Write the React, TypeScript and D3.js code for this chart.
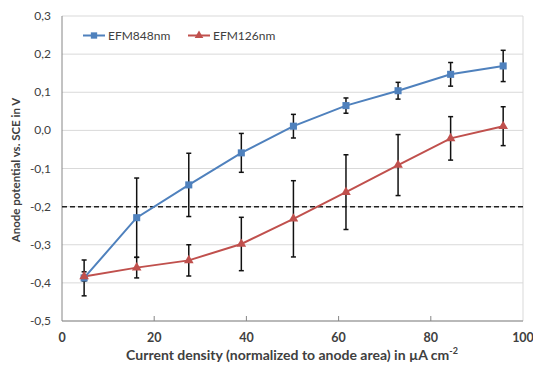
import * as d3 from 'd3';
import React, { useRef, useEffect } from 'react';

// Data
const xValues = [4.8, 16.2, 27.5, 38.9, 50.2, 61.6, 72.9, 84.3, 95.7];
const blueValues = [-0.387, -0.229, -0.143, -0.059, 0.011, 0.065, 0.104, 0.147, 0.169];
const blueErrors = [0.047, 0.104, 0.083, 0.051, 0.031, 0.02, 0.022, 0.031, 0.041];
const redValues = [-0.383, -0.36, -0.341, -0.298, -0.232, -0.162, -0.091, -0.021, 0.011];
const redErrors = [0.012, 0.027, 0.041, 0.07, 0.1, 0.098, 0.08, 0.057, 0.051];
const yTicks = [0.3, 0.2, 0.1, 0.0, -0.1, -0.2, -0.3, -0.4, -0.5];
const xTicks = [0, 20, 40, 60, 80, 100];
const seriesNames = ['EFM848nm', 'EFM126nm'];
const threshold = -0.2;

const width = 533;
const height = 365;
const margin = { left: 62, right: 10, top: 16, bottom: 44 };
const font = 'Lato, "Open Sans", sans-serif';
const blue = '#4f81bd';
const red = '#c0504d';

export default function App() {
    const svgRef = useRef<SVGSVGElement>(null);

    useEffect(() => {
        const svg = d3.select(svgRef.current);
        svg.selectAll('*').remove();

        const x = d3.scaleLinear().domain([0, 100]).range([margin.left, width - margin.right]);
        const y = d3.scaleLinear().domain([-0.5, 0.3]).range([height - margin.bottom, margin.top]);

        // gridlines
        svg.append('g').selectAll('line').data(yTicks).enter().append('line')
            .attr('x1', x(0)).attr('x2', x(100))
            .attr('y1', d => y(d)).attr('y2', d => y(d))
            .attr('stroke', '#d9d9d9').attr('stroke-width', 1);

        // right border
        svg.append('line')
            .attr('x1', x(100)).attr('x2', x(100)).attr('y1', y(0.3)).attr('y2', y(-0.5))
            .attr('stroke', '#d9d9d9');

        // axes
        svg.append('line')
            .attr('x1', x(0)).attr('x2', x(0)).attr('y1', y(0.3)).attr('y2', y(-0.5))
            .attr('stroke', '#868686');
        svg.append('line')
            .attr('x1', x(0)).attr('x2', x(100)).attr('y1', y(-0.5)).attr('y2', y(-0.5))
            .attr('stroke', '#868686');
        svg.append('g').selectAll('line').data(xTicks.slice(1, -1)).enter().append('line')
            .attr('x1', d => x(d)).attr('x2', d => x(d))
            .attr('y1', y(-0.5)).attr('y2', y(-0.5) - 5)
            .attr('stroke', '#868686');

        // tick labels
        svg.append('g').selectAll('text').data(yTicks).enter().append('text')
            .attr('x', 51).attr('y', d => y(d) + 4)
            .attr('text-anchor', 'end')
            .attr('font-family', font).attr('font-size', 12).attr('fill', '#404040')
            .text(d => d3.format('.1f')(d).replace('.', ',').replace('−', '-'));
        svg.append('g').selectAll('text').data(xTicks).enter().append('text')
            .attr('x', d => x(d)).attr('y', y(-0.5) + 21)
            .attr('text-anchor', 'middle')
            .attr('font-family', font).attr('font-size', 12.5).attr('font-weight', 'bold').attr('fill', '#404040')
            .text(d => d);

        // axis titles
        svg.append('text')
            .attr('transform', `translate(20, 170) rotate(-90)`)
            .attr('text-anchor', 'middle')
            .attr('font-family', font).attr('font-size', 11.5).attr('font-weight', 'bold').attr('fill', '#404040')
            .text('Anode potential vs. SCE in V');
        const xt = svg.append('text')
            .attr('x', 292).attr('y', 360)
            .attr('text-anchor', 'middle')
            .attr('font-family', font).attr('font-size', 14).attr('font-weight', 'bold').attr('fill', '#404040')
            .text('Current density (normalized to anode area) in µA cm');
        xt.append('tspan').attr('dy', -6).attr('font-size', 9).text('-2');

        // dashed threshold
        svg.append('line')
            .attr('x1', x(0)).attr('x2', x(100)).attr('y1', y(threshold)).attr('y2', y(threshold))
            .attr('stroke', '#222').attr('stroke-width', 1.5).attr('stroke-dasharray', '5,3');

        const series = [
            { name: seriesNames[0], values: blueValues, errors: blueErrors, color: blue, marker: d3.symbolSquare },
            { name: seriesNames[1], values: redValues, errors: redErrors, color: red, marker: d3.symbolTriangle },
        ];

        const line = d3.line<number>().x((d, i) => x(xValues[i])).y(d => y(d));

        series.forEach(s => {
            svg.append('path').datum(s.values)
                .attr('d', line).attr('fill', 'none')
                .attr('stroke', s.color).attr('stroke-width', 2);
        });

        series.forEach(s => {
            const g = svg.append('g').attr('stroke', '#111').attr('stroke-width', 1.5);
            s.values.forEach((v, i) => {
                const cx = x(xValues[i]);
                const top = y(v + s.errors[i]);
                const bot = y(v - s.errors[i]);
                g.append('line').attr('x1', cx).attr('x2', cx).attr('y1', top).attr('y2', bot);
                g.append('line').attr('x1', cx - 2.5).attr('x2', cx + 2.5).attr('y1', top).attr('y2', top);
                g.append('line').attr('x1', cx - 2.5).attr('x2', cx + 2.5).attr('y1', bot).attr('y2', bot);
            });
        });

        series.forEach(s => {
            const size = s.marker === d3.symbolSquare ? 50 : 40;
            svg.append('g').selectAll('path').data(s.values).enter().append('path')
                .attr('d', d3.symbol().type(s.marker).size(size))
                .attr('transform', (d, i) => `translate(${x(xValues[i])},${y(d)})`)
                .attr('fill', s.color);
        });

        // legend
        const legendX = [83, 188];
        series.forEach((s, i) => {
            const lx = legendX[i];
            const ly = 35.5;
            svg.append('line')
                .attr('x1', lx).attr('x2', lx + 22).attr('y1', ly).attr('y2', ly)
                .attr('stroke', s.color).attr('stroke-width', 2);
            svg.append('path')
                .attr('d', d3.symbol().type(s.marker).size(s.marker === d3.symbolSquare ? 40 : 32))
                .attr('transform', `translate(${lx + 11},${ly})`)
                .attr('fill', s.color);
            svg.append('text')
                .attr('x', lx + 25).attr('y', ly + 4)
                .attr('font-family', font).attr('font-size', 12).attr('fill', '#404040')
                .text(s.name);
        });
    });

    return (
        <svg ref={svgRef} width={width} height={height}
            style={{ position: 'absolute', left: 0, top: 0, background: '#fff' }}></svg>
    );
}
